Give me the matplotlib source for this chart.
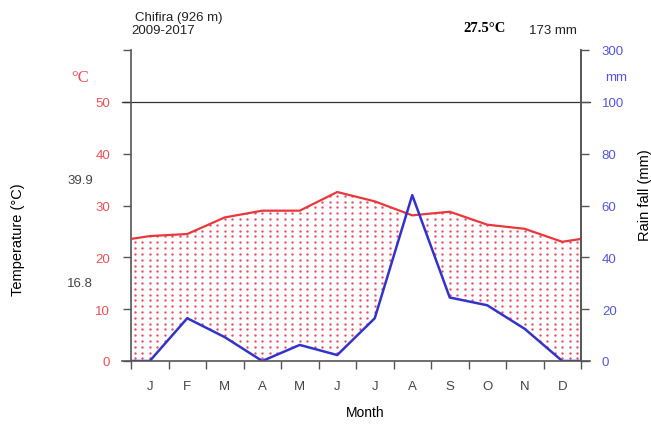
import numpy as np
import matplotlib.pyplot as plt
from matplotlib.path import Path

# Walter-Lieth style climate diagram, Chifira station
months = ['J', 'F', 'M', 'A', 'M', 'J', 'J', 'A', 'S', 'O', 'N', 'D']
temp = [24.1, 24.5, 27.7, 29.0, 29.0, 32.6, 30.8, 28.1, 28.8, 26.3, 25.5, 23.0]
rain = [0, 16.5, 9.2, 0, 6.2, 2.3, 16.5, 64.0, 24.5, 21.5, 12.4, 0]
temp_ticks = [0, 10, 20, 30, 40, 50]
rain_ticks = ['0', '20', '40', '60', '80', '100', '300']

RED = '#e8383d'
BLUE = '#3333cc'
GREY = '#555555'

plt.rcParams['font.family'] = ['Liberation Sans', 'DejaVu Sans']

def rain_scale(r):
    r = np.asarray(r, dtype=float)
    return np.where(r <= 100, r / 2.0, 50 + (r - 100) / 20.0)

# half-month extension at both ends (as in the climatol diagram)
x = np.concatenate([[0], np.arange(12) + 0.5, [12]])
t_edge = (temp[0] + temp[-1]) / 2
r_edge = (rain[0] + rain[-1]) / 2
t = np.concatenate([[t_edge], temp, [t_edge]])
r = rain_scale(np.concatenate([[r_edge], rain, [r_edge]]))

fig = plt.figure(figsize=(6.51, 4.27), dpi=100)
ax = fig.add_axes([131/651, 1 - 362/427, 450/651, 311/427])
ax.set_xlim(0, 12)
ax.set_ylim(0, 60)

# dry period: red dot pattern between temperature and rain curves
xf = np.linspace(0, 12, 2401)
tf = np.interp(xf, x, t)
rf = np.interp(xf, x, r)
fb = ax.fill_between(xf, rf, tf, where=tf >= rf, interpolate=True,
                     facecolor='none', edgecolor='none')
clip = Path.make_compound_path(*fb.get_paths())
gx, gy = np.meshgrid(np.arange(0.1, 12, 0.2), np.arange(0.5, 40, 1.12))
dots = ax.scatter(gx.ravel(), gy.ravel(), s=3.0, color='#e8506a', lw=0, zorder=2)
dots.set_clip_path(clip, ax.transData)

ax.plot(x, t, color=RED, lw=1.6, zorder=3)
ax.plot(x, r, color=BLUE, lw=1.8, zorder=4)

# reference lines at 50 C / 100 mm and at 0
ax.plot([-0.24, 12.24], [50, 50], color='#333333', lw=0.9, clip_on=False)
ax.plot([-0.24, 12.24], [0, 0], color=GREY, lw=1.2, clip_on=False, zorder=5)

for s in ['top', 'bottom']:
    ax.spines[s].set_visible(False)
for s in ['left', 'right']:
    ax.spines[s].set_color(GREY)
    ax.spines[s].set_linewidth(1.2)

ax.set_yticks([0, 10, 20, 30, 40, 50, 60])
ax.set_yticklabels([str(v) for v in temp_ticks] + [''], color='#e8505a', fontsize=9.5)
ax.tick_params(axis='y', length=6, width=1, color=GREY, pad=9)

ax.set_xticks(np.arange(13))
ax.set_xticklabels([])
ax.set_xticks(np.arange(12) + 0.5, minor=True)
ax.set_xticklabels(months, minor=True, fontsize=9.5, color='#444444')
ax.tick_params(axis='x', which='major', length=6, width=1, color=GREY)
ax.tick_params(axis='x', which='minor', length=0, pad=14)

ax2 = ax.twinx()
ax2.set_ylim(0, 60)
ax2.set_yticks([0, 10, 20, 30, 40, 50, 60])
ax2.set_yticklabels(rain_ticks, color='#5555dd', fontsize=9.5)
ax2.tick_params(axis='y', length=6, width=1, color=GREY, pad=9)
for s in ['top', 'bottom', 'left']:
    ax2.spines[s].set_visible(False)
ax2.spines['right'].set_color(GREY)
ax2.spines['right'].set_linewidth(1.2)

# annotations
fig.text(80/651, 1 - 78/427, '\u00b0C', color='#e8505a', fontsize=12,
         family='Liberation Serif', ha='center', va='center')
fig.text(616/651, 1 - 78/427, 'mm', color='#5555dd', fontsize=9.5,
         ha='center', va='center')
fig.text(80/651, 1 - 181/427, '39.9', fontsize=9.5, ha='center', va='center', color='#444444')
fig.text(80/651, 1 - 284/427, '16.8', fontsize=9.5, ha='center', va='center', color='#444444')
fig.text(135/651, 1 - 18/427, 'Chifira (926 m)', fontsize=9.5, ha='left', va='center', color='#222222')
fig.text(131/651, 1 - 31/427, '2009-2017', fontsize=9.5, ha='left', va='center', color='#222222')
fig.text(485/651, 1 - 29/427, '27.5\u00b0C', fontsize=10.5, fontweight='bold',
         family='Liberation Serif', ha='center', va='center')
fig.text(553/651, 1 - 31/427, '173 mm', fontsize=9.5, ha='center', va='center', color='#222222')

fig.text(18/651, 1 - 240/427, 'Temperature (\u00b0C)', fontsize=10.5, rotation=90,
         ha='center', va='center')
fig.text(645/651, 1 - 195/427, 'Rain fall (mm)', fontsize=10.5, rotation=90,
         ha='center', va='center')
fig.text(365/651, 1 - 413/427, 'Month', fontsize=10, ha='center', va='center')

fig.savefig('out.png', dpi=100)
